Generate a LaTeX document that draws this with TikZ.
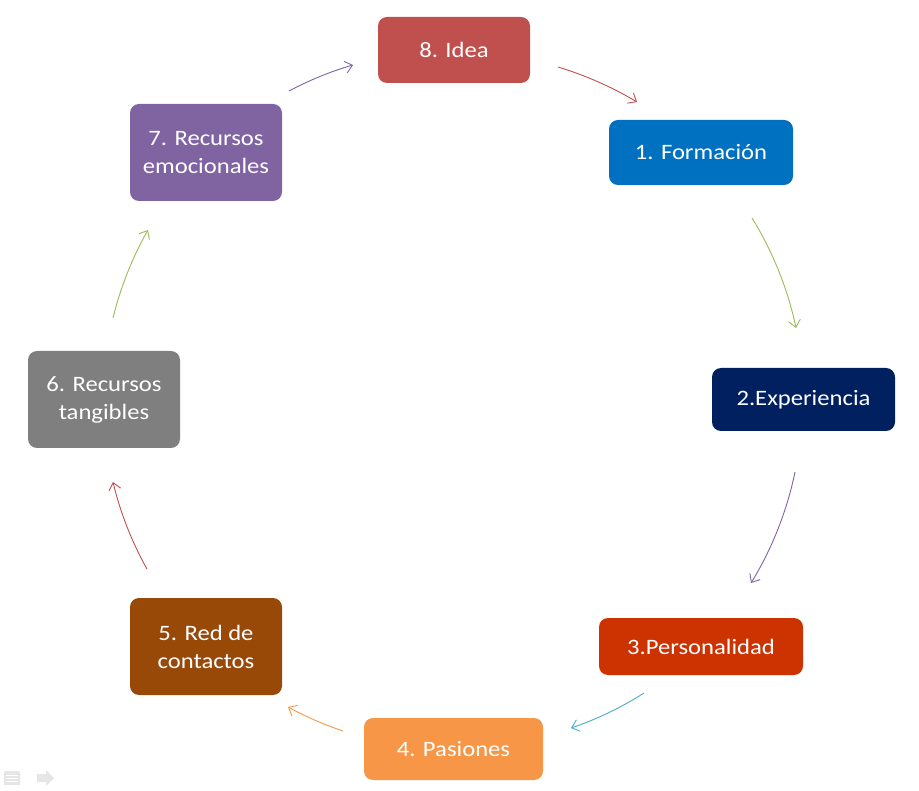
\documentclass[tikz,border=0pt]{standalone}
\usepackage{fontspec}
\setmainfont{Carlito}[FakeStretch=1.12]
\usetikzlibrary{arrows.meta}
\definecolor{cIdea}{HTML}{C0504D}
\definecolor{cForm}{HTML}{0070C0}
\definecolor{cExp}{HTML}{002060}
\definecolor{cPers}{HTML}{CC3300}
\definecolor{cPas}{HTML}{F79646}
\definecolor{cRed}{HTML}{984807}
\definecolor{cTang}{HTML}{7F7F7F}
\definecolor{cEmo}{HTML}{8064A2}
\definecolor{aRed}{HTML}{C0504D}
\definecolor{aGreen}{HTML}{9BBB59}
\definecolor{aPurple}{HTML}{8064A2}
\definecolor{aAqua}{HTML}{4BACC6}
\definecolor{aOrange}{HTML}{F79646}
\definecolor{iconGray}{HTML}{E6E6E6}
\begin{document}
\begin{tikzpicture}[x=1pt,y=-1pt,
  box/.style={rounded corners=9pt, text=white, align=center, inner sep=0pt,
    font=\fontsize{22}{28}\selectfont},
  conn/.style={-{Straight Barb[length=7pt,width=12pt]}, line width=0.9pt, looseness=0.85}]
\useasboundingbox (0,0) rectangle (919,791);
% boxes
\node[box, fill=cIdea, minimum width=152pt, minimum height=66pt] (idea) at (454,50) {8. Idea};
\node[box, fill=cForm, minimum width=184pt, minimum height=65pt] (form) at (701,152.5) {1. Formación};
\node[box, fill=cExp, minimum width=183pt, minimum height=63pt] (exp) at (803.5,399.5) {2.Experiencia};
\node[box, fill=cPers, minimum width=204pt, minimum height=57pt] (pers) at (701,646.5) {3.Personalidad};
\node[box, fill=cPas, minimum width=179pt, minimum height=62pt] (pas) at (453.5,749) {4. Pasiones};
\node[box, fill=cRed, minimum width=152pt, minimum height=97pt] (red) at (206,646.5) {5. Red de\\contactos};
\node[box, fill=cTang, minimum width=152pt, minimum height=97pt] (tang) at (104,399.5) {6. Recursos\\tangibles};
\node[box, fill=cEmo, minimum width=152pt, minimum height=97pt] (emo) at (206,152.5) {7. Recursos\\emocionales};
% arrow end points
\coordinate (a1s) at (558,67);  \coordinate (a1e) at (637,102);
\coordinate (a2s) at (752,218); \coordinate (a2e) at (796,328);
\coordinate (a3s) at (795,472); \coordinate (a3e) at (751,583);
\coordinate (a4s) at (644,693); \coordinate (a4e) at (571,728);
\coordinate (a5s) at (343,731); \coordinate (a5e) at (288,707);
\coordinate (a6s) at (147,569); \coordinate (a6e) at (113,482);
\coordinate (a7s) at (113,318); \coordinate (a7e) at (148,230);
\coordinate (a8s) at (289,91);  \coordinate (a8e) at (353,65);
% arrows
\draw[conn, aRed]    (a1s) to[bend left=7]  (a1e);
\draw[conn, aGreen]  (a2s) to[bend left=10] (a2e);
\draw[conn, aPurple] (a3s) to[bend left=10] (a3e);
\draw[conn, aAqua]   (a4s) to[bend left=7]  (a4e);
\draw[conn, aOrange] (a5s) to[bend left=5]  (a5e);
\draw[conn, aRed]    (a6s) to[bend left=8]  (a6e);
\draw[conn, aGreen]  (a7s) to[bend left=8]  (a7e);
\draw[conn, aPurple] (a8s) to[bend left=6]  (a8e);
% faint slideshow icons
\fill[iconGray, rounded corners=1pt] (4,771) rectangle (20,785);
\draw[white, line width=0.8pt] (6,775) -- (18,775) (6,778) -- (18,778) (6,781) -- (18,781);
\fill[iconGray] (37,774) -- (46,774) -- (46,770) -- (54,778) -- (46,786) -- (46,782) -- (37,782) -- cycle;
\end{tikzpicture}
\end{document}
